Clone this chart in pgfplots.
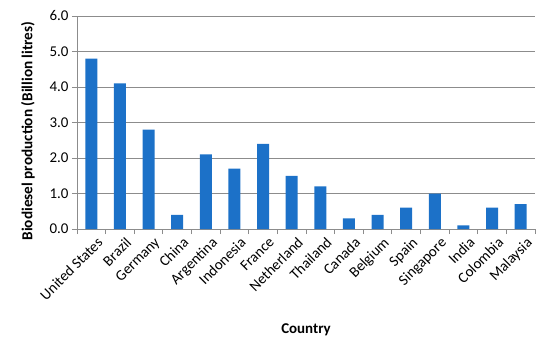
\documentclass[border=0pt]{standalone}
\usepackage{pgfplots}
\pgfplotsset{compat=1.18}
\usepackage{fontspec}
\setmainfont{Carlito}
\definecolor{barblue}{RGB}{28,113,200}
\definecolor{gridgray}{RGB}{140,140,140}
\begin{document}
\begin{tikzpicture}
  \begin{axis}[
    scale only axis, width=458bp, height=213bp,
    xmin=-0.5, xmax=15.5, ymin=0, ymax=6,
    axis x line*=bottom, axis y line*=left,
    axis line style={gridgray, line width=0.8pt},
    ytick={0,1,...,6}, ymajorgrids,
    grid style={gridgray, line width=0.8pt},
    xtick={0,...,15},
    xticklabels={United States, Brazil, Germany, China, Argentina, Indonesia,
      France, Netherland, Thailand, Canada, Belgium, Spain, Singapore, India,
      Colombia, Malaysia},
    minor xtick={-0.5,0.5,...,15.5},
    major x tick style={draw=none},
    minor x tick style={gridgray, line width=0.8pt},
    y tick style={gridgray, line width=0.8pt},
    tick align=outside, major tick length=5bp, minor tick length=5bp,
    tick label style={font=\fontsize{15}{17}\selectfont},
    x tick label style={rotate=45, anchor=north east, inner sep=1pt, yshift=-4bp, xshift=3bp},
    yticklabel style={/pgf/number format/.cd, fixed, fixed zerofill, precision=1,
      assume math mode=true},
    ylabel={\bfseries Biodiesel production (Billion litres)},
    ylabel style={font=\fontsize{15.3}{17}\selectfont, at={(axis description cs:-0.107,0.46)},
      anchor=center},
    xlabel={\bfseries Country},
    xlabel style={font=\fontsize{15}{17}\selectfont, at={(axis description cs:0.5,-0.474)},
      anchor=center},
    clip=false,
  ]
    % production per country
    \addplot[ybar, bar width=12bp, fill=barblue, draw=none] coordinates {
      (0,4.8) (1,4.1) (2,2.8) (3,0.4) (4,2.1) (5,1.7) (6,2.4) (7,1.5)
      (8,1.2) (9,0.3) (10,0.4) (11,0.6) (12,1.0) (13,0.1) (14,0.6) (15,0.7)
    };
    \coordinate (bl) at (rel axis cs:0,0);
    \coordinate (tr) at (rel axis cs:1,1);
  \end{axis}
  \pgfresetboundingbox
  \path ([shift={(-77bp,-114bp)}]bl) rectangle ([shift={(15bp,16bp)}]tr);
\end{tikzpicture}
\end{document}
